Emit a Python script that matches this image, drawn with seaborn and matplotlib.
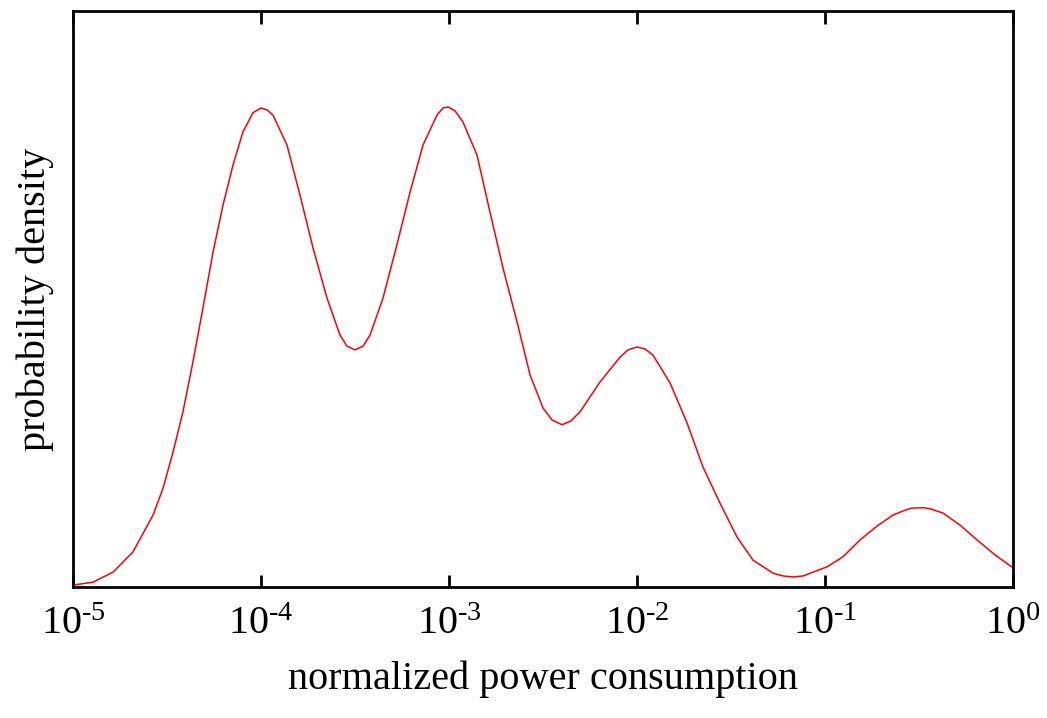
import numpy as np
import matplotlib
matplotlib.use("Agg")
import matplotlib.pyplot as plt
import seaborn as sns
from matplotlib.ticker import NullLocator, FixedLocator

# log10 of normalized power consumption
log_power = [-5.000, -4.894, -4.787, -4.681, -4.574, -4.521, -4.468, -4.415, -4.362,
             -4.309, -4.255, -4.202, -4.149, -4.096, -4.043, -4.000, -3.968, -3.936,
             -3.862, -3.793, -3.723, -3.649, -3.580, -3.543, -3.500, -3.457, -3.420,
             -3.351, -3.277, -3.207, -3.138, -3.064, -3.032, -3.005, -2.968, -2.926,
             -2.851, -2.782, -2.713, -2.638, -2.569, -2.500, -2.452, -2.399, -2.351,
             -2.303, -2.197, -2.090, -2.048, -2.000, -1.957, -1.915, -1.824, -1.734,
             -1.649, -1.559, -1.468, -1.383, -1.277, -1.223, -1.170, -1.117, -1.064,
             -0.989, -0.904, -0.814, -0.723, -0.638, -0.574, -0.543, -0.505, -0.473,
             -0.441, -0.372, -0.282, -0.191, -0.096, 0.000]
# probability density (arbitrary units)
density = [0.004, 0.010, 0.031, 0.073, 0.150, 0.206, 0.281, 0.365, 0.469,
           0.581, 0.698, 0.796, 0.879, 0.948, 0.988, 0.998, 0.994, 0.983,
           0.921, 0.817, 0.706, 0.602, 0.525, 0.502, 0.494, 0.502, 0.525,
           0.602, 0.713, 0.823, 0.921, 0.983, 0.998, 1.000, 0.992, 0.969,
           0.900, 0.781, 0.665, 0.552, 0.442, 0.373, 0.348, 0.338, 0.346,
           0.365, 0.427, 0.479, 0.494, 0.500, 0.496, 0.483, 0.425, 0.342,
           0.250, 0.175, 0.104, 0.056, 0.029, 0.023, 0.021, 0.023, 0.031,
           0.042, 0.063, 0.098, 0.127, 0.150, 0.160, 0.164, 0.165, 0.165,
           0.163, 0.154, 0.129, 0.098, 0.067, 0.040]
tick_exponents = [-5, -4, -3, -2, -1, 0]
x_label = "normalized power consumption"
y_label = "probability density"

sns.set_theme(style="white")
plt.rcParams["font.family"] = ["Liberation Serif", "DejaVu Serif"]
plt.rcParams["mathtext.fontset"] = "custom"
plt.rcParams["mathtext.rm"] = "Liberation Serif"
plt.rcParams["mathtext.it"] = "Liberation Serif:italic"
plt.rcParams["mathtext.bf"] = "Liberation Serif:bold"

power = 10.0 ** np.array(log_power)

fig = plt.figure(figsize=(10.47, 7.18), dpi=100)
ax = fig.add_axes([73 / 1047, 1 - 587 / 718, 940 / 1047, 576 / 718])

sns.lineplot(x=power, y=density, ax=ax, color="red", linewidth=1.1)

ax.set_xscale("log")
ax.set_xlim(1e-5, 1)
ax.set_ylim(0, 1.2)
ax.xaxis.set_major_locator(FixedLocator([10.0 ** e for e in tick_exponents]))
labels = []
for e in tick_exponents:
    if e < 0:
        labels.append(r"$10^{\text{-}%d}$" % (-e))
    else:
        labels.append(r"$10^{%d}$" % e)
ax.set_xticklabels(labels)
ax.xaxis.set_minor_locator(NullLocator())
ax.set_yticks([])

for s in ax.spines.values():
    s.set_color("black")
    s.set_linewidth(2.0)
    s.set_visible(True)

ax.tick_params(axis="x", which="major", direction="in", top=True, bottom=True,
               length=9, width=2.0, color="black", labelsize=29, pad=14,
               labelcolor="black")

ax.set_xlabel(x_label, fontsize=29, labelpad=12, color="black")
ax.set_ylabel(y_label, fontsize=29, labelpad=14, color="black")

fig.savefig("out.png", dpi=100, facecolor="white")
